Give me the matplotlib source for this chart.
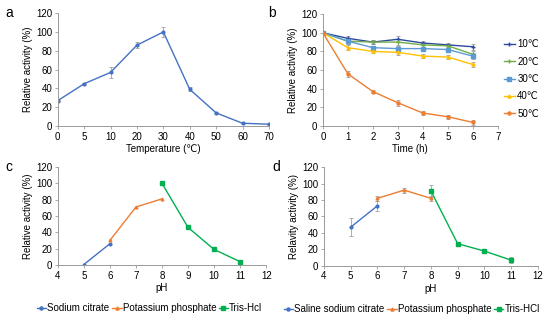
import matplotlib.pyplot as plt
from matplotlib.lines import Line2D

# panel a: temperature optimum
temps = ["0", "5", "10", "20", "30", "40", "50", "60", "70"]
act_temp = [27, 45, 57, 86, 100, 39, 14, 3, 2]
err_temp = [1, 1, 6, 3, 5, 2, 1, 0.5, 0.5]

# panel b: thermal stability
hours = [0, 1, 2, 3, 4, 5, 6]
stab_labels = ["10\u2103", "20\u2103", "30\u2103", "40\u2103", "50\u2103"]
stab_10 = [100, 94, 90, 93, 89, 87, 85]
stab_20 = [100, 91, 90, 90, 87, 86, 77]
stab_30 = [100, 91, 84, 83, 83, 82, 75]
stab_40 = [100, 84, 80, 79, 75, 74, 66]
stab_50 = [100, 56, 37, 25, 14, 10, 4]
stab_err = [0, 3, 2, 3, 2, 2, 3]

# panel c: pH optimum
ph_cit = [5, 6]
c_cit = [0.5, 26]
ph_pho = [6, 7, 8]
c_pho = [30, 71, 81]
ph_tris = [8, 9, 10, 11]
c_tris = [100, 46, 19, 4]

# panel d: pH stability
d_cit = [47, 73]
d_cit_err = [11, 6]
d_pho = [82, 92, 82]
d_pho_err = [3, 3, 3]
d_tris = [91, 27, 18, 7]
d_tris_err = [7, 1, 1, 4]

BLUE = "#4472C4"
ORANGE = "#ED7D31"
GREEN = "#00B050"
FS = 7

plt.rcParams['font.family'] = ['Liberation Sans', 'DejaVu Sans']
plt.rcParams['font.size'] = FS

fig = plt.figure(figsize=(5.5, 3.2), dpi=100)


def style(ax):
    for s in ["top", "right"]:
        ax.spines[s].set_visible(False)
    for s in ["left", "bottom"]:
        ax.spines[s].set_color("#9a9a9a")
        ax.spines[s].set_linewidth(0.7)
    ax.tick_params(colors="#9a9a9a", labelcolor="black", labelsize=FS, length=2, width=0.6, pad=2)
    ax.set_ylim(0, 120)
    ax.set_yticks(range(0, 121, 20))


def handles(cols, marks, labels):
    return [Line2D([], [], color=c, marker=m, ms=2.2, lw=1, label=l)
            for c, m, l in zip(cols, marks, labels)]


ekw = dict(ecolor="#a0a0a0", elinewidth=0.6, capsize=1.2, capthick=0.6)

# a
ax = fig.add_axes([0.105, 0.606, 0.384, 0.353])
style(ax)
xa = list(range(len(temps)))
ax.errorbar(xa, act_temp, yerr=err_temp, color=BLUE, marker="o", ms=2, lw=1, **ekw)
ax.set_xticks(xa)
ax.set_xticklabels(temps)
ax.set_xlim(0, len(temps) - 1)
ax.set_xlabel("Temperature (\u2103)", fontsize=FS, labelpad=2)
ax.set_ylabel("Relative activity (%)", fontsize=FS, labelpad=2)

# b
ax = fig.add_axes([0.587, 0.606, 0.318, 0.35])
style(ax)
series = [stab_10, stab_20, stab_30, stab_40, stab_50]
cols = ["#2E4A9E", "#70AD47", "#5B9BD5", "#FFC000", ORANGE]
marks = ["+", "+", "s", "^", "o"]
for vals, c, m in zip(series, cols, marks):
    ax.errorbar(hours, vals, yerr=stab_err, color=c, marker=m, ms=2.2, lw=1, **ekw)
ax.set_xlim(0, 7)
ax.set_xticks(range(0, 8))
ax.set_xlabel("Time (h)", fontsize=FS, labelpad=2)
ax.set_ylabel("Relative activity (%)", fontsize=FS, labelpad=2)
ax.legend(handles=handles(cols, marks, stab_labels), loc="center left",
          bbox_to_anchor=(1.0, 0.42), frameon=False, fontsize=FS,
          handlelength=1.2, labelspacing=0.75, handletextpad=0.2, borderpad=0.1)

# c
ax = fig.add_axes([0.105, 0.172, 0.379, 0.306])
style(ax)
ax.plot(ph_cit, c_cit, color=BLUE, marker="o", ms=2, lw=1)
ax.plot(ph_pho, c_pho, color=ORANGE, marker="^", ms=2, lw=1)
ax.plot(ph_tris, c_tris, color=GREEN, marker="s", ms=2.2, lw=1)
ax.set_xlim(4, 12)
ax.set_xticks(range(4, 13))
ax.set_xlabel("pH", fontsize=FS, labelpad=2)
ax.set_ylabel("Relative activity (%)", fontsize=FS, labelpad=2)
ax.legend(handles=handles([BLUE, ORANGE, GREEN], ["o", "^", "s"],
                          ["Sodium citrate", "Potassium phosphate", "Tris-Hcl"]),
          loc="upper center", bbox_to_anchor=(0.44, -0.33), ncol=3, frameon=False,
          fontsize=FS, handlelength=1.0, handletextpad=0.1, columnspacing=0.25,
          borderpad=0.1)

# d
ax = fig.add_axes([0.589, 0.169, 0.389, 0.309])
style(ax)
ax.errorbar(ph_cit, d_cit, yerr=d_cit_err, color=BLUE, marker="o", ms=2, lw=1, **ekw)
ax.errorbar(ph_pho, d_pho, yerr=d_pho_err, color=ORANGE, marker="^", ms=2, lw=1, **ekw)
ax.errorbar(ph_tris, d_tris, yerr=d_tris_err, color=GREEN, marker="s", ms=2.2, lw=1, **ekw)
ax.set_xlim(4, 12)
ax.set_xticks(range(4, 13))
ax.set_xlabel("pH", fontsize=FS, labelpad=2)
ax.set_ylabel("Relavity activity (%)", fontsize=FS, labelpad=2)
ax.legend(handles=handles([BLUE, ORANGE, GREEN], ["o", "^", "s"],
                          ["Saline sodium citrate", "Potassium phosphate", "Tris-HCl"]),
          loc="upper center", bbox_to_anchor=(0.41, -0.33), ncol=3, frameon=False,
          fontsize=FS, handlelength=1.0, handletextpad=0.1, columnspacing=0.25,
          borderpad=0.1)

# panel letters
for x, y, s in [(0.01, 0.96, "a"), (0.487, 0.96, "b"), (0.01, 0.478, "c"), (0.496, 0.478, "d")]:
    fig.text(x, y, s, fontsize=10, va="center")

fig.savefig("out.png", dpi=100)
